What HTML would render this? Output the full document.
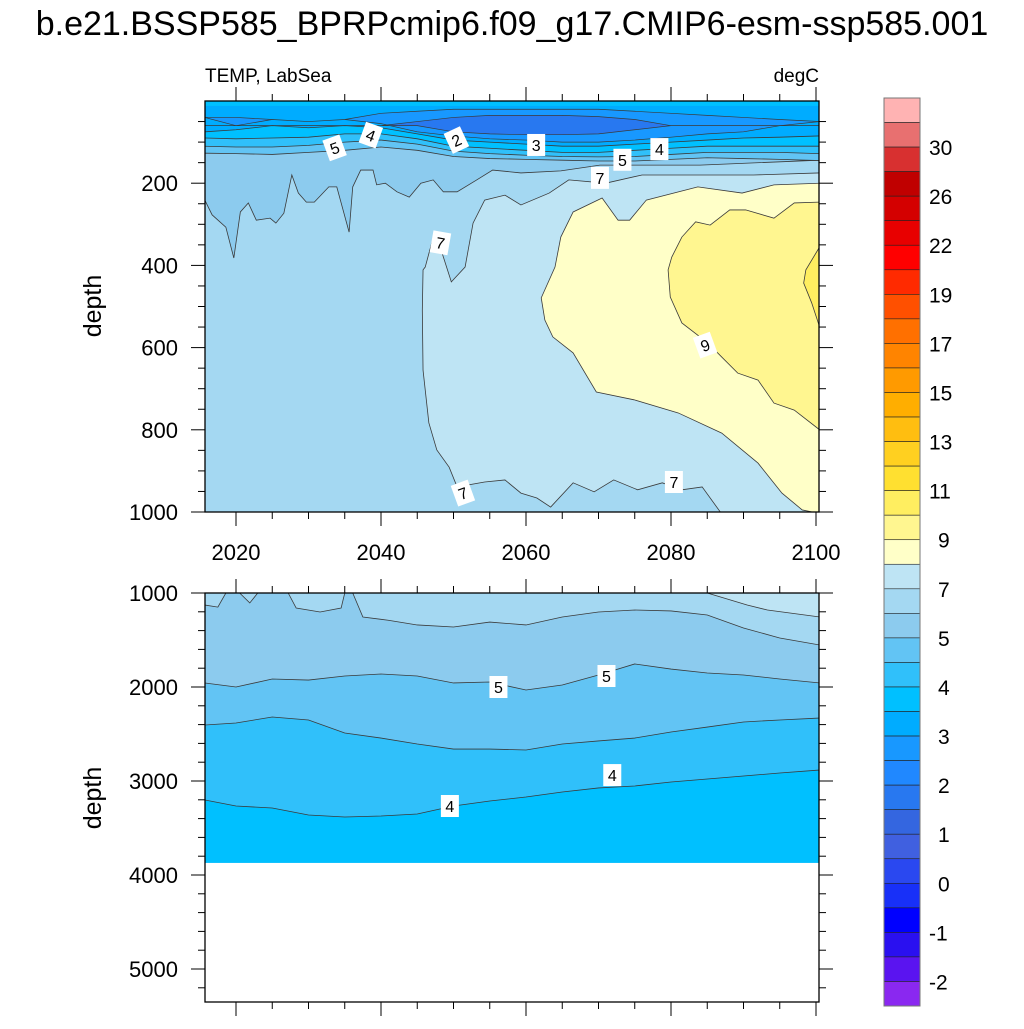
<!DOCTYPE html>
<html><head><meta charset="utf-8">
<style>
html,body{margin:0;padding:0;background:#fff;}
svg text{font-family:"Liberation Sans",sans-serif;}
</style></head>
<body>
<svg id="chart" xmlns="http://www.w3.org/2000/svg" width="1024" height="1024" viewBox="0 0 1024 1024">
<defs>
<clipPath id="clipTop"><rect x="205" y="101" width="614" height="411"/></clipPath>
<clipPath id="clipBot"><rect x="205" y="593" width="614" height="409"/></clipPath>
</defs>
<rect width="1024" height="1024" fill="#fff"/>
<text x="512" y="35" text-anchor="middle" font-size="34">b.e21.BSSP585_BPRPcmip6.f09_g17.CMIP6-esm-ssp585.001</text>
<text x="205" y="82" font-size="19">TEMP, LabSea</text>
<text x="819" y="82" text-anchor="end" font-size="19">degC</text>
<text x="0" y="0" transform="translate(101,306) rotate(-90)" text-anchor="middle" font-size="25">depth</text>
<text x="0" y="0" transform="translate(101,798) rotate(-90)" text-anchor="middle" font-size="25">depth</text>
<g id="topPlot" clip-path="url(#clipTop)"></g>
<g id="botPlot" clip-path="url(#clipBot)"></g>
<g id="axes"></g>
<g id="labels"></g>
<g id="cbar"></g>
</svg>
<script>
// ---------- data ----------
const grid = [2015.7,2020,2025,2030,2035,2040,2045,2050,2055,2060,2065,2070,2075,2080,2085,2090,2095,2100.5];
const t5Depth  = [127,128,130,125,120,112,120,135,140,142,144,146,146,142,138,140,142,145];
const t45Depth = [110,112,112,108,100,95,105,122,128,132,135,136,135,130,125,125,125,128];
const t4Depth  = [90,92,90,88,80,80,92,110,115,120,125,125,120,115,110,110,110,110];
const t35Depth = [75,70,60,65,60,65,80,95,100,105,110,110,105,100,95,90,88,85];
const t3Top    = [40,40,45,50,45,30,25,20,20,20,20,20,25,30,35,40,45,50];
const t3Bot    = [40,60,45,50,45,55,75,85,92,95,100,100,95,88,80,75,60,50];
const t25Top   = [60,60,60,60,60,60,50,40,35,35,35,38,45,60,60,60,60,60];
const t25Bot   = [60,60,60,60,60,60,60,75,80,82,82,80,70,60,60,60,60,60];
const t6Years  = [2015.7,2016.7,2018.6,2019.7,2020.6,2021.7,2022.8,2024.7,2025.5,2026.6,2027.7,2028.6,2029.7,2030.8,2032.8,2033.9,2035.6,2036.1,2037.2,2038.9,2039.4,2040.6,2042.2,2043.9,2045.5,2047.2,2048.6,2050.5,2053.2,2055.4,2059.3,2064.8,2070.2,2084,2100.5];
const t6Depths = [241,277,307,382,270,248,290,285,297,273,180,224,246,246,209,209,319,209,168,168,204,200,221,234,200,192,221,221,192,168,175,170,156,156,144];
const b7Years  = [2045.8,2045.7,2045.8,2046.6,2047.7,2049.4,2050.5,2054.3,2057.1,2059.3,2061.5,2063.4,2066.5,2069.4,2072.1,2075.4,2078.8,2081.5,2084.3,2086.8,2100.5,2100.5,2091.4,2083.7,2076.0,2071.0,2065.9,2063.2,2059.3,2057.1,2054.3,2052.7,2051.6,2049.7,2048.3,2047.4,2046.1];
const b7Depths = [411,509,655,783,849,891,939,927,922,954,966,988,929,951,922,946,929,946,939,1000,1000,175,180,180,180,200,192,224,253,229,241,297,404,440,363,319,404];
const b8Years  = [2070.5,2066.5,2064.8,2064.0,2062.1,2062.6,2063.7,2066.5,2069.7,2074.9,2081.0,2087.0,2092.0,2095.3,2098.1,2099.5,2100.5,2100.5,2094.2,2089.8,2083.7,2076.6,2074.3,2072.7];
const b8Depths = [236,270,331,404,479,533,574,613,708,727,759,808,881,954,995,1000,1000,200,204,224,209,241,290,290];
const b9Years  = [2079.6,2079.9,2081.5,2085.1,2087.0,2089.2,2092.0,2094.2,2097.0,2100.5,2100.5,2097.0,2094.2,2090.3,2088.1,2085.4,2083.4,2081.5,2080.1];
const b9Depths = [411,477,540,589,623,662,679,735,752,800,246,248,285,265,265,302,294,331,380];
const b10Years  = [2100.5,2098.6,2098.3,2099.4,2100.5];
const b10Depths = [355,411,443,491,550];
const l6Years  = [2015.7,2017.5,2018.6,2020.5,2021.9,2023,2027.2,2028.3,2031.6,2034.5,2035,2036.1,2037.5,2041,2045,2050,2055,2060,2065,2070,2075,2080,2085,2090,2095,2100.5];
const l6Depths = [1128,1150,1000,1000,1106,1000,1000,1160,1202,1160,1000,1000,1255,1290,1340,1362,1309,1340,1255,1202,1181,1191,1234,1372,1479,1553];
const l7Years  = [2085,2090.5,2093.3,2100.5];
const l7Depths = [1000,1128,1181,1255];
const l5Depth  = [1957,2000,1915,1926,1883,1862,1883,1957,1947,2032,1979,1872,1755,1809,1851,1872,1915,1957];
const l45Depth = [2404,2383,2319,2351,2489,2543,2606,2660,2660,2670,2606,2574,2543,2479,2426,2372,2351,2330];
const l4Depth  = [3202,3266,3287,3362,3383,3372,3351,3266,3213,3170,3117,3074,3053,3011,2979,2947,2915,2883];
const bottomDepth = 3870;
const xTicks = [2020,2040,2060,2080,2100];
const yTicksTop = [200,400,600,800,1000];
const yTicksBot = [1000,2000,3000,4000,5000];
const cbarColors = ["#ffb3b3","#e87070","#d83030","#c00000","#d40000","#e80000","#ff0000","#ff2a00","#ff5000","#ff7000","#ff8400","#ff9a00","#ffae00","#ffbe10","#ffd020","#ffe030","#ffee60","#fff690","#ffffc8","#bee4f4","#a4d8f2","#8ccbee","#62c4f4","#30c0fa","#00c0ff","#00acff","#1898ff","#2088ff","#2878f0","#3466e0","#4060e0","#2a48f0","#1830f8","#0000ff","#2a10f0","#5a14f0","#8a28f0"];
const cbarLabels = ["30","26","22","19","17","15","13","11","9","7","5","4","3","2","1","0","-1","-2"];
const labelYears  = [2033.6,2038.6,2050.4,2061.4,2073.3,2078.4,2070.2,2048.2,2084.7,2051.3,2080.4];
const labelDepths = [114,83,95,107,143,117,187,345,594,954,927];
const labelTexts  = ["5","4","2","3","5","4","7","7","9","7","7"];
const labelRot    = [-20,20,-25,0,0,0,0,10,-20,-20,0];
const lowLabelYears  = [2056.2,2071.1,2049.5,2071.9];
const lowLabelDepths = [2000,1883,3266,2937];
const lowLabelTexts  = ["5","5","4","4"];

// ---------- scales ----------
const NS="http://www.w3.org/2000/svg";
const X0=205,X1=819;
function xs(yr){return 236+(yr-2020)*7.25;}
function yTop(d){return 101+d*0.411;}
function yBot(d){return 593+(d-1000)*0.094;}
function mk(tag,attrs,parent){const e=document.createElementNS(NS,tag);for(const k in attrs)e.setAttribute(k,attrs[k]);parent.appendChild(e);return e;}
const topG=document.getElementById('topPlot'), botG=document.getElementById('botPlot');
const axesG=document.getElementById('axes'), labG=document.getElementById('labels'), cbG=document.getElementById('cbar');
const LINE="#3a3a3a";

function bandFromTop(g,yf,yrs,bot,top0,color,name){
  let pts=yrs.map((y,i)=>xs(y)+","+yf(bot[i]));
  let ptsTop=yrs.slice().reverse().map((y)=>xs(y)+","+yf(top0));
  const p=mk('polygon',{points:pts.concat(ptsTop).join(" "),fill:color},g);
  
  
  const l=mk('polyline',{points:pts.join(" "),fill:"none",stroke:LINE,"stroke-width":0.8},g);
  
  
}
function bandBetween(g,yf,yrs,top,bot,color,name){
  let pts=yrs.map((y,i)=>xs(y)+","+yf(bot[i]));
  let ptsTop=yrs.map((y,i)=>xs(y)+","+yf(top[i])).reverse();
  const p=mk('polygon',{points:pts.concat(ptsTop).join(" "),fill:color,stroke:LINE,"stroke-width":0.7},g);
  
  
}
function outline(g,yf,yrs,deps,color,name){
  const p=mk('polygon',{points:yrs.map((y,i)=>xs(y)+","+yf(deps[i])).join(" "),fill:color,stroke:LINE,"stroke-width":0.8},g);
  
  
}
function bandBelow(g,yf,yrs,top,bottomD,color,name){
  let pts=yrs.map((y,i)=>xs(y)+","+yf(top[i]));
  let bot=[xs(yrs[yrs.length-1])+","+yf(bottomD), xs(yrs[0])+","+yf(bottomD)];
  const p=mk('polygon',{points:pts.concat(bot).join(" "),fill:color},g);
  
  
  const l=mk('polyline',{points:pts.join(" "),fill:"none",stroke:LINE,"stroke-width":0.8},g);
  
  
}

// ---------- upper panel ----------
let r=mk('rect',{x:X0,y:101,width:X1-X0,height:411,fill:"#a4d8f2"},topG);


bandFromTop(topG,yTop,t6Years,t6Depths,0,"#8ccbee","band-5-6");
bandFromTop(topG,yTop,grid,t5Depth,0,"#62c4f4","band-4.5-5");
bandFromTop(topG,yTop,grid,t45Depth,0,"#30c0fa","band-4-4.5");
bandFromTop(topG,yTop,grid,t4Depth,0,"#00c0ff","band-3.5-4");
bandFromTop(topG,yTop,grid,t35Depth,12,"#00acff","band-3-3.5");
bandBetween(topG,yTop,grid,t3Top,t3Bot,"#1898ff","band-2.5-3");
bandBetween(topG,yTop,grid,t25Top,t25Bot,"#2878f0","band-2-2.5");
outline(topG,yTop,b7Years,b7Depths,"#bee4f4","band-7-8");
outline(topG,yTop,b8Years,b8Depths,"#ffffc8","band-8-9");
outline(topG,yTop,b9Years,b9Depths,"#fff690","band-9-10");
outline(topG,yTop,b10Years,b10Depths,"#ffee60","band-10-11");

// ---------- lower panel ----------
r=mk('rect',{x:X0,y:593,width:X1-X0,height:yBot(bottomDepth)-593,fill:"#a4d8f2"},botG);


bandBelow(botG,yBot,l6Years,l6Depths,bottomDepth,"#8ccbee","band-5-6-lower");
bandBelow(botG,yBot,grid,l5Depth,bottomDepth,"#62c4f4","band-4.5-5-lower");
bandBelow(botG,yBot,grid,l45Depth,bottomDepth,"#30c0fa","band-4-4.5-lower");
bandBelow(botG,yBot,grid,l4Depth,bottomDepth,"#00c0ff","band-3.5-4-lower");
bandFromTop(botG,yBot,l7Years,l7Depths,1000,"#bee4f4","band-7-8-lower");

// ---------- axes ----------
function line(x1,y1,x2,y2,w,name){const l=mk('line',{x1:x1,y1:y1,x2:x2,y2:y2,stroke:"#000","stroke-width":w},axesG);return l;}
function frame(yA,yB,name){const f=mk('rect',{x:X0,y:yA,width:X1-X0,height:yB-yA,fill:"none",stroke:"#000","stroke-width":1.3},axesG);}
frame(101,512,'upper-frame');frame(593,1002,'lower-frame');
for(let yr=2015;yr<=2100;yr+=5){
  const x=xs(yr); if(x<X0-0.5||x>X1+0.5) continue;
  const maj=(yr%20===0); const L=maj?14:7;
  line(x,101,x,101-L,1,'x-tick');line(x,512,x,512+L,1,'x-tick');
  line(x,593,x,593-L,1,'x-tick');line(x,1002,x,1002+L,1,'x-tick');
}
xTicks.forEach(v=>{const t=mk('text',{x:xs(v),y:560,"text-anchor":"middle","font-size":22},axesG);t.textContent=v;});
for(let d=50;d<=1000;d+=50){const y=yTop(d);const maj=(d%200===0);const L=maj?14:7;line(X0,y,X0-L,y,1,'y-tick');line(X1,y,X1+L,y,1,'y-tick');}
yTicksTop.forEach(v=>{const t=mk('text',{x:178,y:yTop(v)+8,"text-anchor":"end","font-size":22},axesG);t.textContent=v;});
for(let d=1000;d<=5350;d+=200){const y=yBot(d);if(y>1002)continue;const maj=(d%1000===0);const L=maj?14:7;line(X0,y,X0-L,y,1,'y-tick');line(X1,y,X1+L,y,1,'y-tick');}
yTicksBot.forEach(v=>{const t=mk('text',{x:178,y:yBot(v)+8,"text-anchor":"end","font-size":22},axesG);t.textContent=v;});

// ---------- contour labels ----------
function clabel(x,y,txt,rot){
  const g=mk('g',{transform:`translate(${x},${y}) rotate(${rot})`},labG);
  
  
  mk('rect',{x:-9,y:-11,width:18,height:22,fill:"#fff"},g);
  const t=mk('text',{x:0,y:6,"text-anchor":"middle","font-size":16},g);t.textContent=txt;
}
labelTexts.forEach((s,i)=>clabel(xs(labelYears[i]),yTop(labelDepths[i]),s,labelRot[i]));
lowLabelTexts.forEach((s,i)=>clabel(xs(lowLabelYears[i]),yBot(lowLabelDepths[i]),s,0));

// ---------- colorbar ----------
const cbTop=98,cbBot=1006,cbX=884,cbW=36;const bh=(cbBot-cbTop)/cbarColors.length;
cbarColors.forEach((c,i)=>{const b=mk('rect',{x:cbX,y:cbTop+i*bh,width:cbW,height:bh,fill:c,stroke:"#222","stroke-width":0.6},cbG);});
const cbf=mk('rect',{x:cbX,y:cbTop,width:cbW,height:cbBot-cbTop,fill:"none",stroke:"#777","stroke-width":1},cbG);

cbarLabels.forEach((s,i)=>{const lx=(s.length===1)?938:929;const t=mk('text',{x:lx,y:cbTop+(2*(i+1))*bh+8,"text-anchor":"start","font-size":21},cbG);t.textContent=s;});
</script>
</body></html>
